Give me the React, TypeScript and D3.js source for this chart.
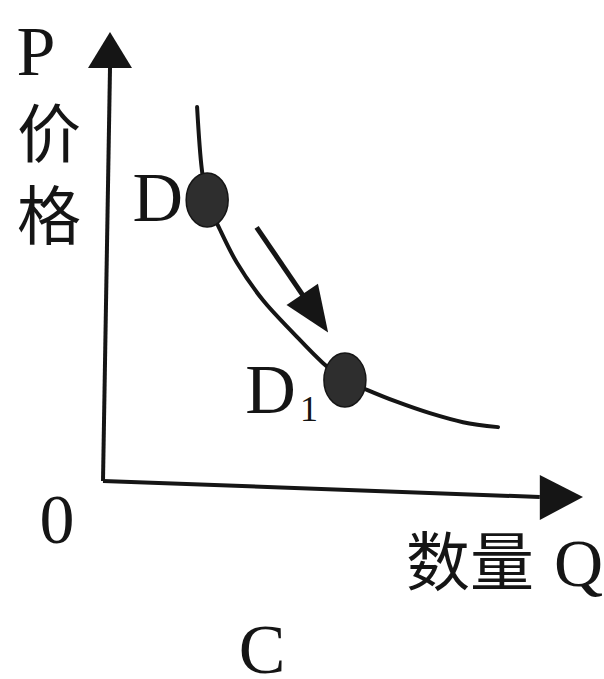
import * as d3 from 'd3';
import { useEffect, useRef } from 'react';

// demand curve D (quantity Q, price P on a 0..10 grid)
const curveQ = [1.96, 2.06, 2.17, 2.44, 2.79, 3.33, 3.96, 4.58, 5.04, 5.5, 6.13, 6.81, 7.5, 8.23];
const curveP = [8.33, 6.93, 6.26, 5.59, 4.86, 4.03, 3.3, 2.63, 2.25, 2.03, 1.76, 1.51, 1.31, 1.2];

// the two marked points D and D1
const pointNames = ['D', 'D'];
const pointSubs = ['', '1'];
const pointQ = [2.17, 5.04];
const pointP = [6.26, 2.25];

// movement arrow along the curve
const moveQ = [3.2, 4.69];
const moveP = [5.65, 3.31];

const yLabel = ['P', '价', '格'];
const xLabel = '数量';
const xLetter = 'Q';
const originLabel = '0';
const caption = 'C';

const W = 604;
const H = 679;
const ink = '#151515';
const serif = '"Liberation Serif", "DejaVu Serif", serif';
const cjk = '"Noto Sans CJK SC", sans-serif';

const App = () => {
  const ref = useRef<SVGSVGElement>(null);

  useEffect(() => {
    const svg = d3.select(ref.current);
    svg.selectAll('*').remove();

    const x = d3.scaleLinear([0, 10], [103, 583]);
    const y = d3.scaleLinear([0, 10], [481, 32]);

    // scanned axes lean slightly
    const yLean = 7; // px of rightward drift at the top of the P axis
    const xLean = 16; // px of downward drift at the end of the Q axis

    const g = svg.append('g');

    // P axis
    g.append('line')
      .attr('x1', x(0))
      .attr('y1', y(0))
      .attr('x2', x(0) + yLean)
      .attr('y2', y(9.2))
      .attr('stroke', ink)
      .attr('stroke-width', 4);
    g.append('path')
      .attr(
        'd',
        `M${x(0) + yLean},${y(10)} L${x(0) + yLean - 22},${y(9.2)} L${x(0) + yLean + 22},${y(9.2)} Z`,
      )
      .attr('fill', ink);

    // Q axis
    g.append('line')
      .attr('x1', x(0))
      .attr('y1', y(0))
      .attr('x2', x(9.1))
      .attr('y2', y(0) + xLean)
      .attr('stroke', ink)
      .attr('stroke-width', 4);
    g.append('path')
      .attr(
        'd',
        `M${x(10)},${y(0) + xLean} L${x(9.1)},${y(0) + xLean - 22} L${x(9.1)},${y(0) + xLean + 23} Z`,
      )
      .attr('fill', ink);

    // demand curve
    const line = d3
      .line<number>()
      .x((q) => x(q))
      .y((_, i) => y(curveP[i]))
      .curve(d3.curveCatmullRom.alpha(0.5));
    g.append('path')
      .attr('d', line(curveQ))
      .attr('fill', 'none')
      .attr('stroke', ink)
      .attr('stroke-width', 4)
      .attr('stroke-linecap', 'round');

    // movement arrow
    const ax0 = x(moveQ[0]);
    const ay0 = y(moveP[0]);
    const ax1 = x(moveQ[1]);
    const ay1 = y(moveP[1]);
    const ang = Math.atan2(ay1 - ay0, ax1 - ax0);
    const headLen = 46;
    const headHalf = 19;
    const bx = ax1 - headLen * Math.cos(ang);
    const by = ay1 - headLen * Math.sin(ang);
    g.append('line')
      .attr('x1', ax0)
      .attr('y1', ay0)
      .attr('x2', bx + 4 * Math.cos(ang))
      .attr('y2', by + 4 * Math.sin(ang))
      .attr('stroke', ink)
      .attr('stroke-width', 5);
    g.append('path')
      .attr(
        'd',
        `M${ax1},${ay1} L${bx - headHalf * Math.sin(ang)},${by + headHalf * Math.cos(ang)} L${
          bx + headHalf * Math.sin(ang)
        },${by - headHalf * Math.cos(ang)} Z`,
      )
      .attr('fill', ink);

    // marked points
    g.selectAll('ellipse.pt')
      .data(pointQ)
      .join('ellipse')
      .attr('class', 'pt')
      .attr('cx', (q) => x(q))
      .attr('cy', (_, i) => y(pointP[i]))
      .attr('rx', 21)
      .attr('ry', 27)
      .attr('fill', '#2e2e2e')
      .attr('stroke', ink)
      .attr('stroke-width', 1.5);

    const labels = g
      .selectAll('text.pt')
      .data(pointNames)
      .join('text')
      .attr('class', 'pt')
      .attr('x', (_, i) => x(pointQ[i]) - (i === 0 ? 24 : 27))
      .attr('y', (_, i) => y(pointP[i]) + (i === 0 ? 21 : 33))
      .attr('text-anchor', 'end')
      .attr('font-family', serif)
      .attr('font-size', 70)
      .attr('fill', ink);
    labels.append('tspan').text((d) => d);
    labels
      .append('tspan')
      .attr('font-size', 36)
      .attr('dy', 8)
      .attr('dx', 4)
      .text((_, i) => pointSubs[i]);

    // axis titles
    g.append('text')
      .attr('x', 36)
      .attr('y', 75)
      .attr('text-anchor', 'middle')
      .attr('font-family', serif)
      .attr('font-size', 70)
      .attr('fill', ink)
      .text(yLabel[0]);
    g.selectAll('text.yl')
      .data(yLabel.slice(1))
      .join('text')
      .attr('class', 'yl')
      .attr('x', 49)
      .attr('y', (_, i) => 129 + i * 82)
      .attr('text-anchor', 'middle')
      .attr('dominant-baseline', 'central')
      .attr('font-family', cjk)
      .attr('font-size', 64)
      .attr('fill', ink)
      .text((d) => d);

    g.append('text')
      .attr('x', 406)
      .attr('y', 557)
      .attr('dominant-baseline', 'central')
      .attr('font-family', cjk)
      .attr('font-size', 64)
      .attr('fill', ink)
      .text(xLabel);
    g.append('text')
      .attr('x', 554)
      .attr('y', 586)
      .attr('font-family', serif)
      .attr('font-size', 68)
      .attr('fill', ink)
      .text(xLetter);

    g.append('text')
      .attr('x', 57)
      .attr('y', 543)
      .attr('text-anchor', 'middle')
      .attr('font-family', serif)
      .attr('font-size', 70)
      .attr('fill', ink)
      .text(originLabel);

    g.append('text')
      .attr('x', 262)
      .attr('y', 673)
      .attr('text-anchor', 'middle')
      .attr('font-family', serif)
      .attr('font-size', 70)
      .attr('fill', ink)
      .text(caption);
  }, []);

  return (
    <svg
      ref={ref}
      width={W}
      height={H}
      viewBox={`0 0 ${W} ${H}`}
      style={{ position: 'absolute', left: 0, top: 0, background: '#fff' }}
    />
  );
};

export default App;
